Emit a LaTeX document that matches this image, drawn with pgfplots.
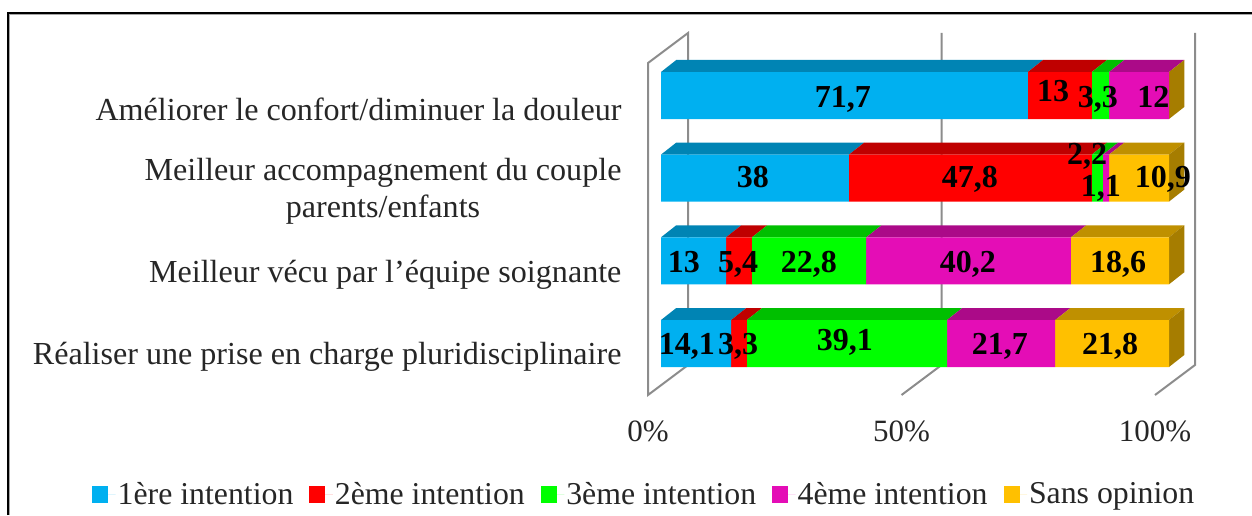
\documentclass[border=0pt]{standalone}
\usepackage{fontspec}
\setmainfont{Liberation Serif}
\usepackage{pgfplots}
\usepackage{pgfplotstable}
\pgfplotsset{compat=1.18}

\definecolor{cblue}{HTML}{00B0F0}
\definecolor{cred}{HTML}{FF0000}
\definecolor{cgreen}{HTML}{00FF00}
\definecolor{cmag}{HTML}{E40DB6}
\definecolor{cgold}{HTML}{FFC000}
\definecolor{tblue}{HTML}{0084B4}
\definecolor{tred}{HTML}{BF0000}
\definecolor{tgreen}{HTML}{00BF00}
\definecolor{tmag}{HTML}{AB0A88}
\definecolor{tgold}{HTML}{BF9000}
\definecolor{sgold}{HTML}{A67D00}
\definecolor{wall}{HTML}{8C8C8C}

% segment widths as drawn in the picture (the printed labels differ a little)
\pgfplotstableread{
y     a    b    c    d    e
0     13.8 3.1  39.4 21.3 22.4
82.7  12.8 5.1  22.5 40.3 19.3
165.4 37.0 47.8 2.2  1.2  11.8
248   72.2 12.6 3.4  11.8 0
}\bars

% 1pt is one pixel of the reference, y measured from the bottom of the page
\pgfplotsset{
  common/.style={scale only axis, clip=false,
    axis line style={draw=none}, major tick length=0pt},
  barframe/.style={common, at={(661pt,141.5pt)}, anchor=south west,
    width=523.24pt, height=330pt, xmin=0, xmax=103, ymin=-30, ymax=300},
  top/.style={fill=#1, draw=none, forget plot},
}
\tikzset{val/.style={font=\bfseries\fontsize{32}{32}\selectfont, inner sep=0pt,
  text height=21pt, text depth=0pt}}

\begin{document}
\begin{tikzpicture}[x=1pt,y=1pt]
\path[use as bounding box] (0,0) rectangle (1252,515);
\draw[gray!70, line width=1.5pt] (9.5,0) -- (9.5,500.5) -- (1252,500.5);
\draw[black, line width=1.5pt] (8,0) -- (8,502) -- (1252,502);

% back walls and scale
\begin{axis}[common, at={(648pt,120pt)}, anchor=south west,
  width=547.56pt, height=362pt, xmin=0, xmax=108, ymin=0, ymax=362,
  ytick=\empty, xtick={0,50,100}, xticklabels={0\%,50\%,100\%},
  xticklabel style={font=\fontsize{31}{31}\selectfont, text=black!85, yshift=-22pt}]
\addplot[wall, line width=2pt] coordinates {(0,30)(0,332)(7.9,362)(7.9,30)(0,0)(0,30)};
\addplot[wall, line width=2pt] coordinates {(50,0)(57.9,30)(57.9,362)};
\addplot[wall, line width=2pt] coordinates {(100,0)(107.9,30)(107.9,362)};
\end{axis}

% top and side faces
\begin{axis}[barframe, xtick=\empty, ytick=\empty]
\addplot[top=tblue] coordinates {(0,271.5)(72.2,271.5)(75.2,283.5)(3,283.5)} --cycle;
\addplot[top=tred] coordinates {(72.2,271.5)(84.8,271.5)(87.8,283.5)(75.2,283.5)} --cycle;
\addplot[top=tgreen] coordinates {(84.8,271.5)(88.2,271.5)(91.2,283.5)(87.8,283.5)} --cycle;
\addplot[top=tmag] coordinates {(88.2,271.5)(100,271.5)(103,283.5)(91.2,283.5)} --cycle;
\addplot[top=sgold] coordinates {(100,224.5)(100,271.5)(103,283.5)(103,236.5)} --cycle;

\addplot[top=tblue] coordinates {(0,188.9)(37,188.9)(40,200.9)(3,200.9)} --cycle;
\addplot[top=tred] coordinates {(37,188.9)(84.8,188.9)(87.8,200.9)(40,200.9)} --cycle;
\addplot[top=tgreen] coordinates {(84.8,188.9)(87,188.9)(90,200.9)(87.8,200.9)} --cycle;
\addplot[top=tmag] coordinates {(87,188.9)(88.2,188.9)(91.2,200.9)(90,200.9)} --cycle;
\addplot[top=tgold] coordinates {(88.2,188.9)(100,188.9)(103,200.9)(91.2,200.9)} --cycle;
\addplot[top=sgold] coordinates {(100,141.9)(100,188.9)(103,200.9)(103,153.9)} --cycle;

\addplot[top=tblue] coordinates {(0,106.2)(12.8,106.2)(15.8,118.2)(3,118.2)} --cycle;
\addplot[top=tred] coordinates {(12.8,106.2)(17.9,106.2)(20.9,118.2)(15.8,118.2)} --cycle;
\addplot[top=tgreen] coordinates {(17.9,106.2)(40.4,106.2)(43.4,118.2)(20.9,118.2)} --cycle;
\addplot[top=tmag] coordinates {(40.4,106.2)(80.7,106.2)(83.7,118.2)(43.4,118.2)} --cycle;
\addplot[top=tgold] coordinates {(80.7,106.2)(100,106.2)(103,118.2)(83.7,118.2)} --cycle;
\addplot[top=sgold] coordinates {(100,59.2)(100,106.2)(103,118.2)(103,71.2)} --cycle;

\addplot[top=tblue] coordinates {(0,23.5)(13.8,23.5)(16.8,35.5)(3,35.5)} --cycle;
\addplot[top=tred] coordinates {(13.8,23.5)(16.9,23.5)(19.9,35.5)(16.8,35.5)} --cycle;
\addplot[top=tgreen] coordinates {(16.9,23.5)(56.3,23.5)(59.3,35.5)(19.9,35.5)} --cycle;
\addplot[top=tmag] coordinates {(56.3,23.5)(77.6,23.5)(80.6,35.5)(59.3,35.5)} --cycle;
\addplot[top=tgold] coordinates {(77.6,23.5)(100,23.5)(103,35.5)(80.6,35.5)} --cycle;
\addplot[top=sgold] coordinates {(100,-23.5)(100,23.5)(103,35.5)(103,-11.5)} --cycle;
\end{axis}

% front faces, category names, legend
\begin{axis}[barframe, xbar stacked, bar width=47pt,
  xtick=\empty,
  ytick={0,82.7,165.4,248},
  yticklabels={{Réaliser une prise en charge pluridisciplinaire},
    {Meilleur vécu par l'équipe soignante},
    {Meilleur accompagnement du couple\\parents/enfants},
    {Améliorer le confort/diminuer la douleur}},
  yticklabel style={align=center, anchor=east, xshift=-36pt, yshift=-13.5pt,
    font=\fontsize{32.1}{37}\selectfont, text=black!85},
  legend columns=5,
  legend image code/.code={\path[#1] (0pt,-8.5pt) rectangle (16pt,8.5pt);
    \path (0pt,0pt) -- (23.5pt,0pt);},
  legend style={at={(axis cs:-112.6,-150.5)}, anchor=west, draw=none, fill=none,
    font=\fontsize{31.8}{32}\selectfont, text=black!85,
    /tikz/every even column/.append style={column sep=14pt}}]
\addplot[fill=cblue, draw=none] table[x=a, y=y] {\bars};
\addplot[fill=cred, draw=none] table[x=b, y=y] {\bars};
\addplot[fill=cgreen, draw=none] table[x=c, y=y] {\bars};
\addplot[fill=cmag, draw=none] table[x=d, y=y] {\bars};
\addplot[fill=cgold, draw=none] table[x=e, y=y] {\bars};
\legend{1ère intention, 2ème intention, 3ème intention, 4ème intention, Sans opinion}
\end{axis}

% value labels, on top of the bars
\begin{axis}[barframe, xtick=\empty, ytick=\empty]
\node[val] at (axis cs:35.8,246.8) {71,7};
\node[val] at (axis cs:77.2,252.5) {13};
\node[val] at (axis cs:86.0,246.8) {3,3};
\node[val] at (axis cs:96.9,246.8) {12};
\node[val] at (axis cs:18.1,166.5) {38};
\node[val] at (axis cs:60.8,166.5) {47,8};
\node[val] at (axis cs:83.9,189.5) {2,2};
\node[val] at (axis cs:86.6,157.5) {1,1};
\node[val] at (axis cs:98.8,166.5) {10,9};
\node[val] at (axis cs:4.5,81.8) {13};
\node[val] at (axis cs:15.2,81.8) {5,4};
\node[val] at (axis cs:29.1,81.8) {22,8};
\node[val] at (axis cs:60.4,81.8) {40,2};
\node[val] at (axis cs:90.0,81.8) {18,6};
\node[val] at (axis cs:5.1,-0.5) {14,1};
\node[val] at (axis cs:15.2,-0.5) {3,3};
\node[val] at (axis cs:36.2,3.5) {39,1};
\node[val] at (axis cs:66.7,-0.5) {21,7};
\node[val] at (axis cs:88.4,-0.5) {21,8};
\end{axis}
\end{tikzpicture}
\end{document}
